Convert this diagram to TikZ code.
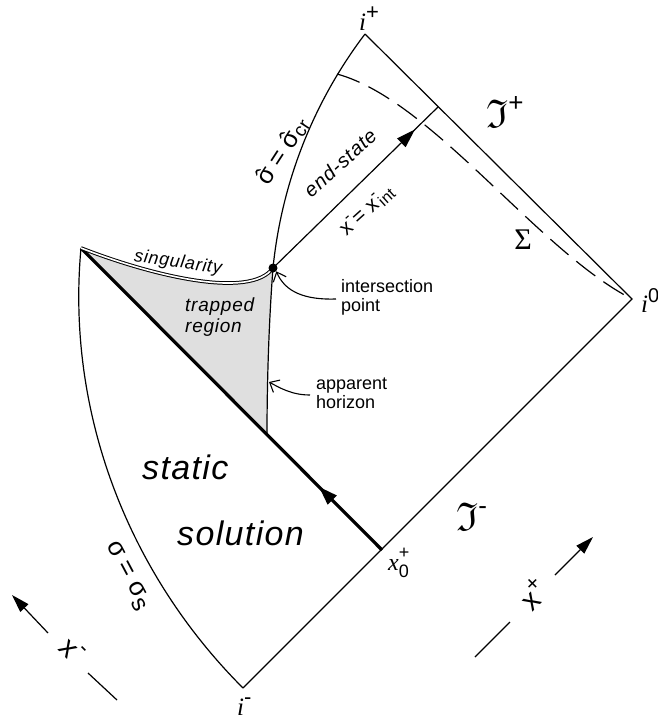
\documentclass[tikz,border=0pt]{standalone}
\usepackage{amssymb}
\usepackage{fontspec}
\setmainfont{Liberation Sans}
\newfontfamily\serifi{Liberation Serif}
\newfontfamily\spaced{Liberation Sans}[LetterSpace=4]
\usetikzlibrary{arrows.meta,decorations.markings}
\newcommand{\fsz}[1]{\fontsize{#1}{#1}\selectfont}
\newcommand{\up}[3]{\raisebox{#1}{\fsz{#2}#3}}
\newcommand{\shat}{\makebox[0pt][l]{\kern0.1em\raisebox{0.02em}{ˆ}}σ}
\tikzset{
  frameln/.style={line width=1.2pt},
  thickln/.style={line width=3.2pt},
  lbl/.style={inner sep=0pt},
  callout/.style={line width=1.1pt,-{Straight Barb[length=8pt,width=14pt]}},
  axisarrow/.style={line width=1.2pt,-{Triangle[length=18pt,width=11pt]}},
  midarrow/.style={postaction={decorate},decoration={markings,mark=at position #1 with {\arrow{Triangle[length=19pt,width=12pt]}}}},
}
\begin{document}
\begin{tikzpicture}[x=1pt,y=-1pt]
\useasboundingbox (0,0) rectangle (657,721);
\coordinate (ip) at (365,34);
\coordinate (io) at (632,299);
\coordinate (im) at (243,688);
\coordinate (xo) at (382,550);
\coordinate (tip) at (81,248);
\coordinate (ipt) at (273,268);
\coordinate (hb) at (267,435);
\coordinate (scri) at (438,107);
\coordinate (sst) at (337,74);
% trapped region
\fill[gray!25] (tip) .. controls (150,275) and (250,300) .. (ipt) .. controls (269,320) and (267,380) .. (hb) -- cycle;
% boundary
\draw[frameln] (ip) -- (io) -- (im);
\draw[frameln] (tip) .. controls (66,411) and (127,572) .. (im);
\draw[frameln] (ipt) .. controls (281.6,182.8) and (313.3,102.2) .. (ip);
\draw[frameln] (ipt) .. controls (269,320) and (267,380) .. (hb);
\draw[frameln,dash pattern=on 24pt off 10pt] (sst) .. controls (432,100) and (538,251) .. (io);
\draw[thickln,midarrow=0.21] (xo) -- (tip);
\draw[frameln,midarrow=0.86] (ipt) -- (scri);
\draw[line width=1pt,double=white,double distance=1.6pt] (tip) .. controls (150,275) and (250,300) .. (ipt);
\node[circle,fill,inner sep=0pt,minimum size=9pt] (ipdot) at (ipt) {};
% labels
\node[lbl,font=\fsz{25},anchor=west] (lip) at (359,19) {{\serifi\itshape i}\up{0.45em}{22}{+}};
\node[lbl,font=\fsz{25},anchor=west] (lio) at (641,301) {{\serifi\itshape i}\up{0.4em}{20}{0}};
\node[lbl,font=\fsz{25},anchor=west] (lim) at (237,707) {{\serifi\itshape i}\up{0.45em}{22}{-}};
\node[lbl,font=\fsz{40},anchor=west] (scrp) at (486,112) {$\mathfrak{I}$\up{0.4em}{26}{+}};
\node[lbl,font=\fsz{40},anchor=west] (scrm) at (456,517) {$\mathfrak{I}$\up{0.4em}{26}{-}};
\node[lbl,font=\fsz{30}] (sig) at (523,240) {\serifi Σ};
\node[lbl,font=\fsz{24},anchor=west] (x0) at (388,563) {{\serifi\itshape x}\makebox[0pt][l]{\up{0.5em}{18}{+}}\up{-0.3em}{18}{0}};
\node[lbl,font=\spaced\fsz{34}\itshape,anchor=west] (stat) at (142,467) {static};
\node[lbl,font=\spaced\fsz{34}\itshape,anchor=west] (solu) at (177,533) {solution};
\node[lbl,font=\spaced\fsz{18}\itshape,rotate=-8] (sing) at (178,263) {singularity};
\node[lbl,font=\spaced\fsz{19}\itshape,align=left,anchor=north west] (trap) at (185,298) {trapped\\[2pt]region};
\node[lbl,font=\spaced\fsz{20}\itshape,rotate=42] (endst) at (340,163) {end-state};
\node[lbl,font=\fsz{21},rotate=42] (xint) at (367,211) {x\makebox[0pt][l]{\up{0.45em}{16}{-}} = x\makebox[0pt][l]{\up{0.45em}{16}{-}}\up{-0.15em}{16}{\,int}};
\node[lbl,font=\fsz{25},rotate=57] (shl) at (282,151) {\shat\ = \shat\up{-0.1em}{19}{cr}};
\node[lbl,font=\fsz{26},rotate=-62] (sgs) at (127,576) {σ = σ\up{-0.2em}{24}{s}};
\node[lbl,font=\fsz{18},align=left,anchor=west] (intl) at (341,297) {intersection\\[1pt]point};
\node[lbl,font=\fsz{18},align=left,anchor=west] (apl) at (316,393) {apparent\\[1pt]horizon};
\coordinate (aht) at (269,382);
\draw[callout] (intl.west) ++(-5,2) .. controls (305,300) and (285,292) .. (ipdot.south east);
\draw[callout] (apl.west) ++(-6,2) .. controls (292,395) and (280,388) .. (aht);
% axes
\node[lbl,font=\fsz{29},rotate=-45] (xm) at (72,650) {x\up{0.45em}{22}{-}};
\coordinate (xma) at (117,700);
\coordinate (xmb) at (88,673);
\coordinate (xmc) at (48,633);
\coordinate (xmt) at (12,595);
\draw[frameln] (xma) -- (xmb);
\draw[axisarrow] (xmc) -- (xmt);
\node[lbl,font=\fsz{29},rotate=45] (xp) at (533,594) {x\up{0.45em}{22}{+}};
\coordinate (xpa) at (475,657);
\coordinate (xpb) at (510,622);
\coordinate (xpc) at (555,575);
\coordinate (xpt) at (593,537);
\draw[frameln] (xpa) -- (xpb);
\draw[axisarrow] (xpc) -- (xpt);
\end{tikzpicture}
\end{document}
